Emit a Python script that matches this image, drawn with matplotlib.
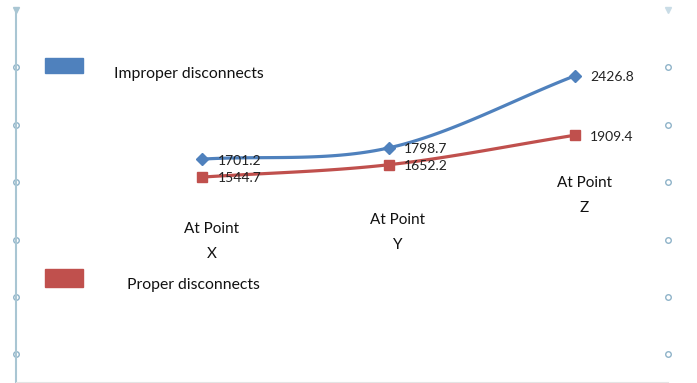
import numpy as np
import matplotlib.pyplot as plt
from matplotlib.patches import Rectangle
from matplotlib.transforms import blended_transform_factory

plt.rcParams['font.family'] = ['Lato', 'DejaVu Sans']

categories = ["At Point\nX", "At Point\nY", "At Point\nZ"]
improper = [1701.2, 1798.7, 2426.8]
proper = [1544.7, 1652.2, 1909.4]
series_names = ["Improper disconnects", "Proper disconnects"]
yticks = [0, 500, 1000, 1500, 2000, 2500]

blue = "#4F81BD"
red = "#C0504D"


def smooth(xs, ys, n=40):
    # catmull-rom like excel smoothed lines
    xs = np.asarray(xs, float)
    ys = np.asarray(ys, float)
    px = np.concatenate([[2 * xs[0] - xs[1]], xs, [2 * xs[-1] - xs[-2]]])
    py = np.concatenate([[2 * ys[0] - ys[1]], ys, [2 * ys[-1] - ys[-2]]])
    ox, oy = [], []
    for i in range(1, len(px) - 2):
        t = np.linspace(0, 1, n)
        for p, out in ((px, ox), (py, oy)):
            p0, p1, p2, p3 = p[i - 1], p[i], p[i + 1], p[i + 2]
            out.extend(0.5 * (2 * p1 + (-p0 + p2) * t
                              + (2 * p0 - 5 * p1 + 4 * p2 - p3) * t ** 2
                              + (-p0 + 3 * p1 - 3 * p2 + p3) * t ** 3))
    return np.array(ox), np.array(oy)


fig = plt.figure(figsize=(6.97, 3.83), dpi=100)
ax = fig.add_axes([16 / 697, 1 / 383, 652 / 697, 372 / 383])
ax.set_xlim(-1, 2.5)
ax.set_ylim(-240, 3000)

x = np.arange(len(categories))
for vals, col, mk, ms in ((improper, blue, "D", 6), (proper, red, "s", 7.5)):
    sx, sy = smooth(x, vals)
    ax.plot(sx, sy, color=col, lw=2.3, solid_capstyle="round")
    ax.plot(x, vals, ls="none", marker=mk, ms=ms, color=col)
    for xi, v in zip(x, vals):
        ax.annotate(f"{v:.1f}", (xi, v), xytext=(11, -1), textcoords="offset points",
                    va="center", ha="left", fontsize=10, color="#222222")

# category labels floating inside the plot
label_y = [985, 1065, 1385]
for xi, lab, ly in zip(x, categories, label_y):
    ax.text(xi + 0.05, ly, lab, ha="center", va="center", fontsize=11,
            linespacing=2.0, color="#111111")

for s in ["top", "right"]:
    ax.spines[s].set_visible(False)
ax.spines["left"].set_color("#A9C6D3")
ax.spines["left"].set_linewidth(1.5)
ax.spines["bottom"].set_color("#E4E4E4")
ax.set_xticks([])
ax.set_yticks([])

tr_l = blended_transform_factory(ax.transAxes, ax.transData)
for yt in yticks:
    for xa in (0, 1.0):
        ax.plot(xa, yt, marker="o", ms=4, mfc="white", mec="#8FB3C9", mew=1,
                transform=tr_l, clip_on=False)
ax.plot(0, 3000, marker="v", ms=4, color="#A9C6D3", transform=tr_l, clip_on=False)
ax.plot(1.0, 3000, marker="v", ms=4, color="#C9DCE6", transform=tr_l, clip_on=False)

# legend, drawn as separate boxes like the original
fig.patches.append(Rectangle((45 / 697, 1 - 73 / 383), 38 / 697, 15 / 383,
                             transform=fig.transFigure, color=blue))
fig.patches.append(Rectangle((45 / 697, 1 - 287 / 383), 38 / 697, 18 / 383,
                             transform=fig.transFigure, color=red))
fig.text(114 / 697, 1 - 74 / 383, series_names[0], fontsize=11.3, va="center", color="#111111")
fig.text(127 / 697, 1 - 285 / 383, series_names[1], fontsize=11.3, va="center", color="#111111")

fig.savefig("out.png", dpi=100, facecolor="white")
